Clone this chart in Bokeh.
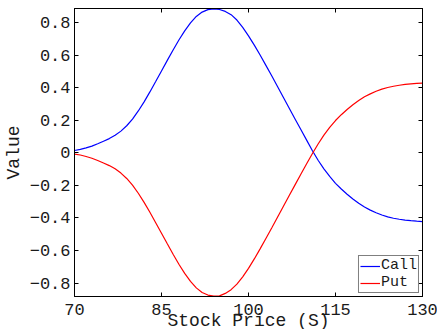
from bokeh.plotting import figure
from bokeh.models import Range1d, LinearAxis, FixedTicker
from bokeh.embed import file_html
from bokeh.resources import INLINE

stock_price = list(range(70, 131))
call_values = [0.015, 0.022, 0.031, 0.042, 0.056, 0.072, 0.088, 0.108, 0.134, 0.167,
               0.208, 0.258, 0.314, 0.375, 0.439, 0.504, 0.569, 0.633, 0.694, 0.750,
               0.799, 0.839, 0.866, 0.881, 0.886, 0.882, 0.87, 0.85, 0.817, 0.772,
               0.72, 0.663, 0.602, 0.538, 0.474, 0.408, 0.342, 0.276, 0.21, 0.145,
               0.08, 0.015, -0.045, -0.098, -0.145, -0.187, -0.222, -0.254, -0.283, -0.31,
               -0.333, -0.352, -0.368, -0.382, -0.393, -0.402, -0.408, -0.413, -0.417, -0.42,
               -0.422]
put_values = [-0.007, -0.013, -0.022, -0.033, -0.047, -0.062, -0.078, -0.098, -0.124, -0.157,
              -0.198, -0.248, -0.304, -0.365, -0.429, -0.494, -0.559, -0.623, -0.685, -0.741,
              -0.79, -0.83, -0.858, -0.874, -0.881, -0.879, -0.864, -0.841, -0.807, -0.762,
              -0.71, -0.652, -0.59, -0.526, -0.462, -0.396, -0.33, -0.264, -0.198, -0.133,
              -0.068, -0.005, 0.055, 0.109, 0.157, 0.199, 0.235, 0.267, 0.296, 0.322,
              0.345, 0.363, 0.379, 0.392, 0.402, 0.41, 0.416, 0.421, 0.425, 0.427,
              0.429]

x_ticks = [70, 85, 100, 115, 130]
x_labels = ["70", "85", "100", "115", "130"]
y_ticks = [-0.8, -0.6, -0.4, -0.2, 0, 0.2, 0.4, 0.6, 0.8]
y_labels = ["\u22120.8", "\u22120.6", "\u22120.4", "\u22120.2", "0", "0.2", "0.4", "0.6", "0.8"]
x_title = "Stock Price (S)"
y_title = "Value"

FONT = "Liberation Mono"
TEXT = "#1a1a1a"

p = figure(frame_width=348, frame_height=288, output_backend="svg", toolbar_location=None,
           x_range=Range1d(70, 130), y_range=Range1d(-0.883, 0.888),
           min_border_left=72, min_border_right=17, min_border_top=8,
           min_border_bottom=33, x_axis_label=x_title, y_axis_label=y_title)
p.grid.visible = False
p.outline_line_color = "black"
p.background_fill_color = "white"
p.border_fill_color = "white"

p.line(stock_price, call_values, line_color="#0000ff", line_width=1.2, legend_label="Call")
p.line(stock_price, put_values, line_color="#ff0000", line_width=1.2, legend_label="Put")

p.add_layout(LinearAxis(), "above")
p.add_layout(LinearAxis(), "right")

for ax in p.xaxis:
    ax.ticker = FixedTicker(ticks=x_ticks)
    ax.major_label_overrides = dict(zip(x_ticks, x_labels))
for ax in p.yaxis:
    ax.ticker = FixedTicker(ticks=y_ticks)
    ax.major_label_overrides = dict(zip(y_ticks, y_labels))

for ax in p.axis:
    ax.major_tick_in = 4
    ax.major_tick_out = 0
    ax.minor_tick_line_color = None
    ax.axis_line_color = "black"
    ax.major_tick_line_color = "black"
    ax.major_label_text_font = FONT
    ax.major_label_text_font_size = "17px"
    ax.major_label_text_color = TEXT
    ax.axis_label_text_font = FONT
    ax.axis_label_text_font_size = "18px"
    ax.axis_label_text_font_style = "normal"
    ax.axis_label_text_color = TEXT

for ax in (p.above[0], p.right[0]):
    ax.major_label_text_font_size = "0px"
    ax.major_label_text_color = None
    ax.major_label_standoff = 0

bx = p.below[0]
bx.major_label_standoff = 7
bx.major_label_text_line_height = 0.8
bx.axis_label_text_line_height = 0.8
bx.axis_label_standoff = -7

ly = p.left[0]
ly.major_label_standoff = 4
ly.axis_label_standoff = 3

lg = p.legend[0]
lg.location = "bottom_right"
lg.border_line_color = "black"
lg.border_line_width = 1.5
lg.margin = 3
lg.padding = 1
lg.spacing = 0
lg.glyph_width = 20
lg.glyph_height = 14
lg.label_height = 14
lg.label_standoff = 1
lg.label_text_font = FONT
lg.label_text_font_size = "15px"
lg.label_text_line_height = 0.6
lg.label_text_color = TEXT
lg.background_fill_alpha = 1

open("out.html", "w").write(file_html(p, INLINE))
